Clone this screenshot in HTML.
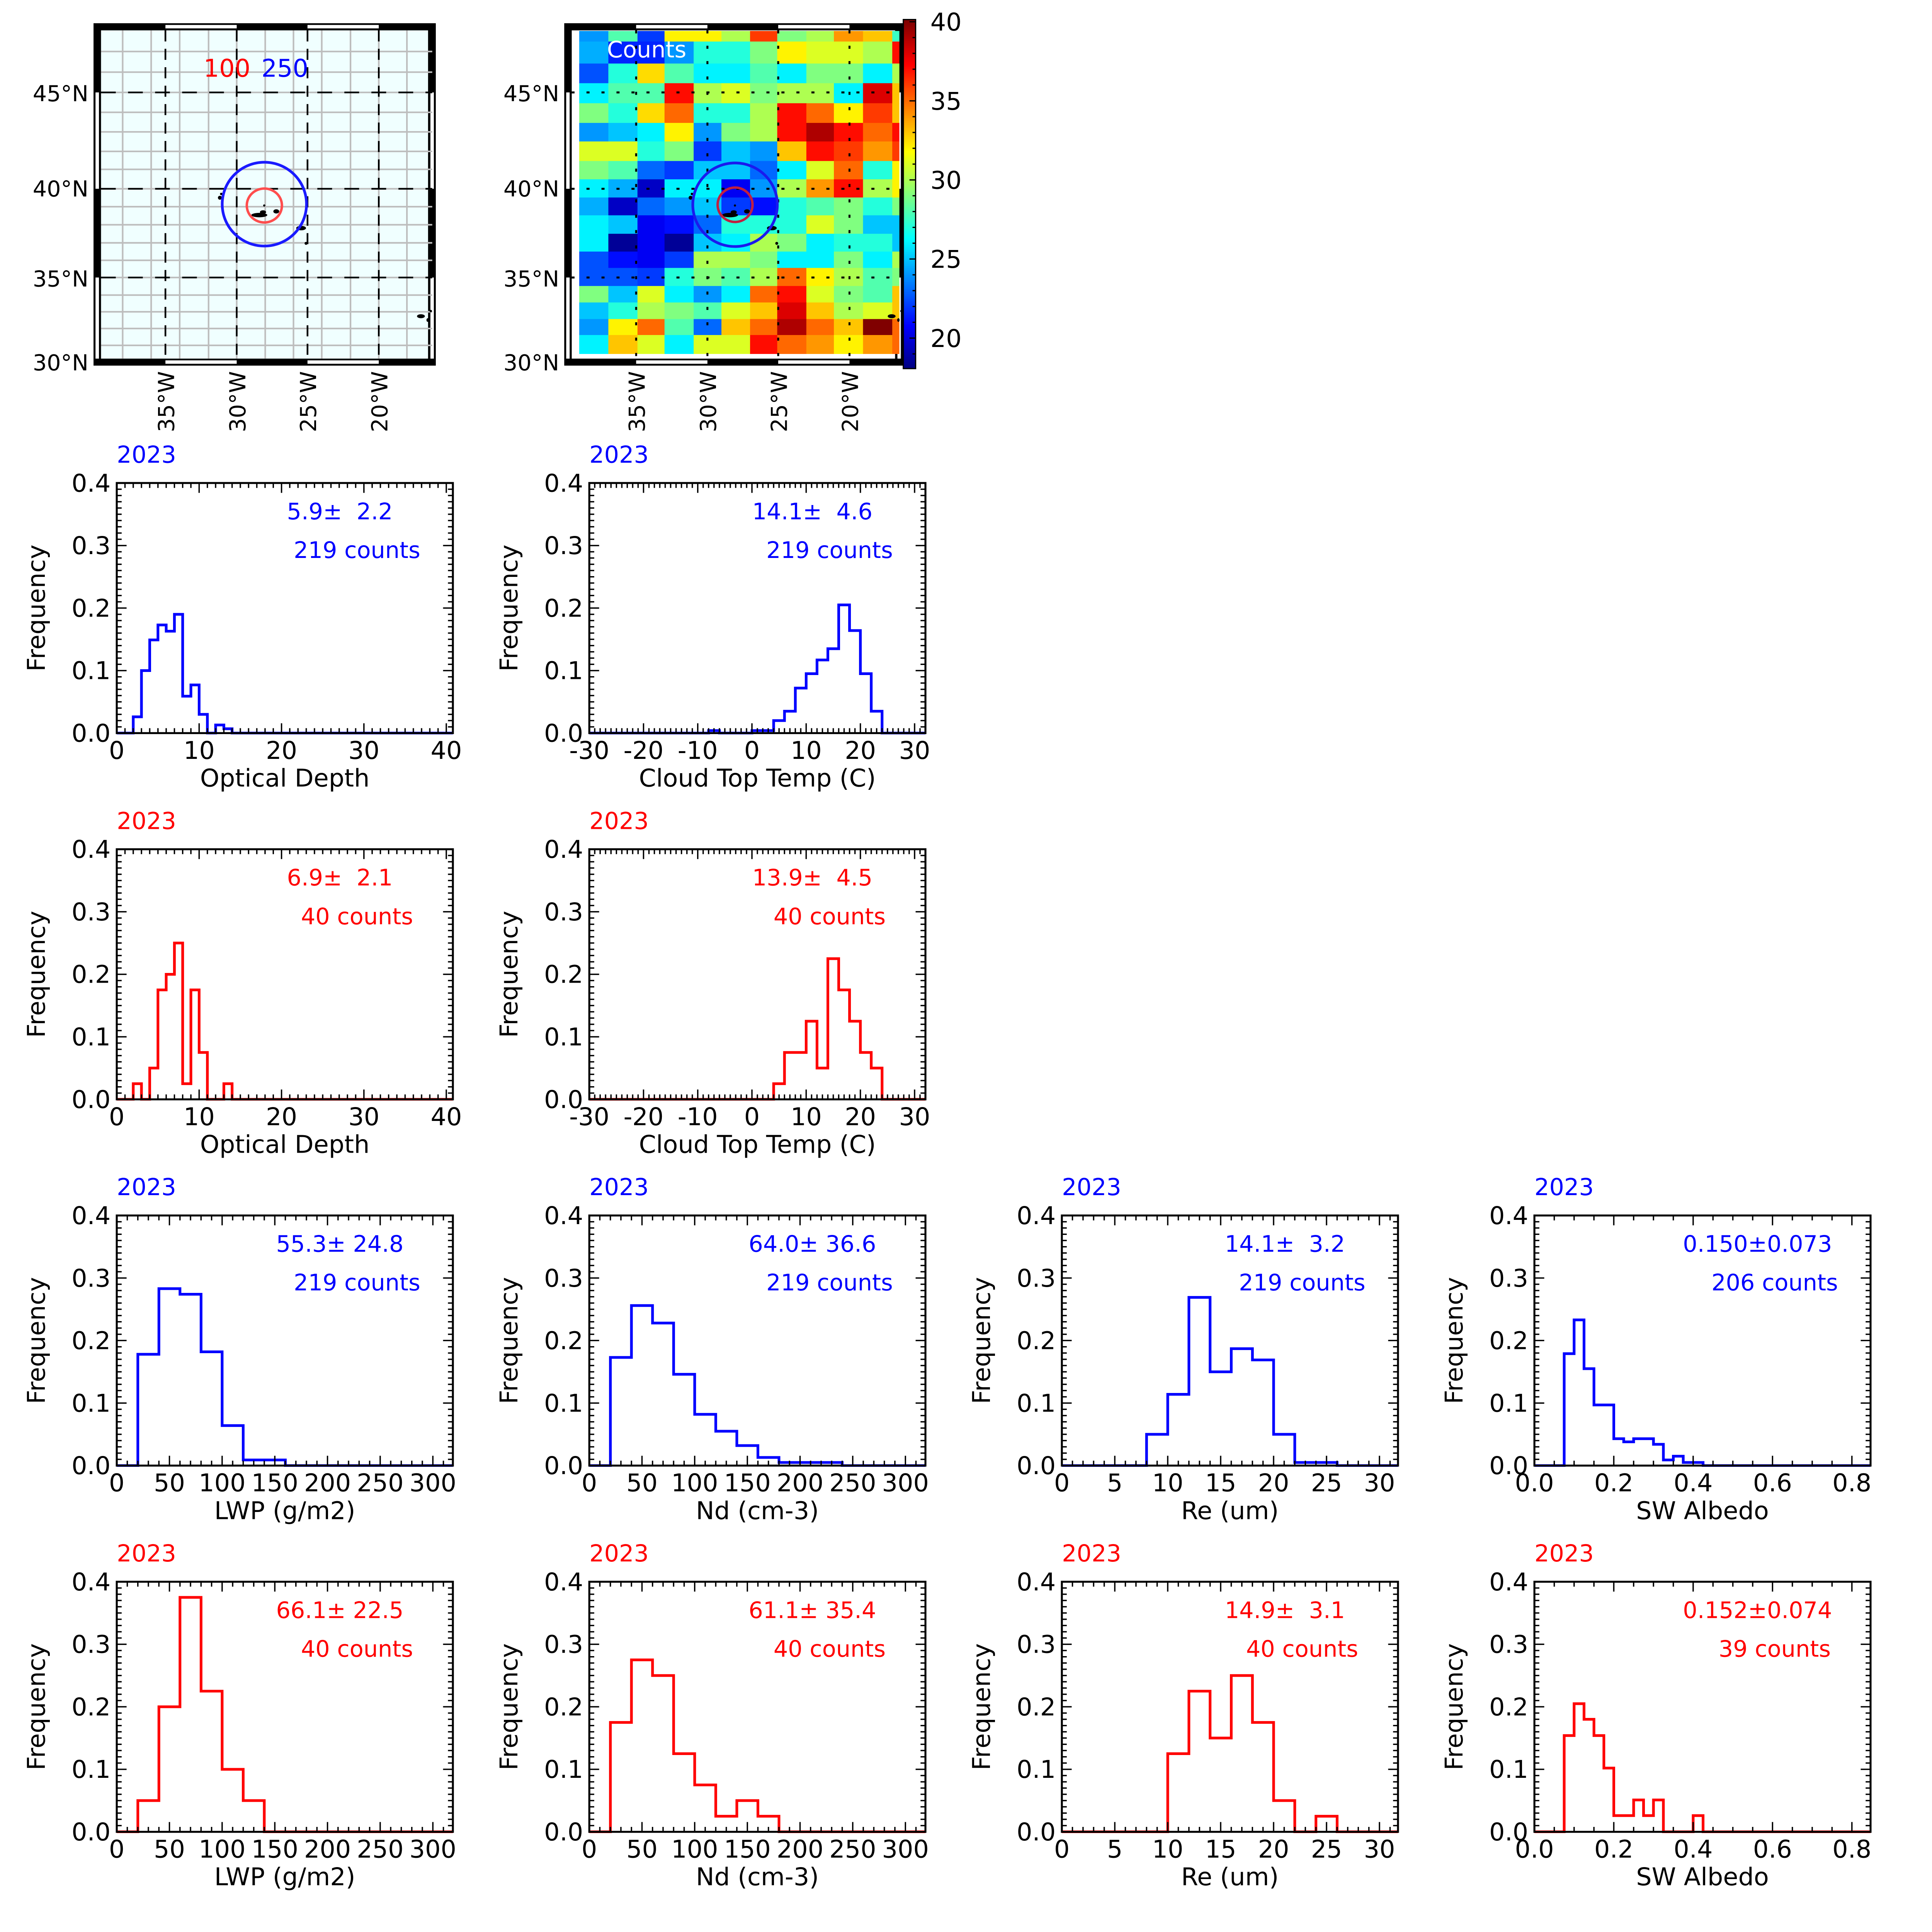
<!DOCTYPE html>
<html><head><meta charset="utf-8"><style>html,body{margin:0;padding:0;background:#fff;overflow:hidden;width:100vw;height:100vh}svg{display:block;width:100vw;height:100vh}text{font-family:"DejaVu Sans","Liberation Sans",sans-serif}</style></head>
<body>
<svg id="s" xmlns="http://www.w3.org/2000/svg" viewBox="0 0 1572 1572" preserveAspectRatio="none"></svg>
<script>
var o=[];
function jet(v){var t=(v-18)/22;if(t<0)t=0;if(t>1)t=1;function c(x){x=Math.max(0,Math.min(1,x));return Math.round(x*255);}
return 'rgb('+c(1.5-Math.abs(4*t-3))+','+c(1.5-Math.abs(4*t-2))+','+c(1.5-Math.abs(4*t-1))+')';}
function T(x,y,s,size,col,anchor,extra){o.push('<text x="'+x+'" y="'+y+'" font-size="'+size+'" fill="'+col+'" text-anchor="'+(anchor||'start')+'" '+(extra||'')+' xml:space="preserve">'+s+'</text>');}
var vx=[134.6,192.6,250.2,308.2], hy=[75.2,153.6,225.8];
var gx=[99.8,123,146.2,169.7,192.6,215.8,238.8,261.8,285.2,308.2,331.1];
var gy=[41.9,58.7,75.2,91.4,107.3,123.2,137.8,153.6,168.2,182.9,197.6,211.8,225.8,240.1,253.7,267.3,281];
function frame(off,w,inner){
 var x0=76.1+off,x1=x0+w,y0=18.9,y1=297.5;
 o.push('<rect x="'+x0+'" y="'+y0+'" width="'+(x1-x0)+'" height="'+(y1-y0)+'" fill="#000"/>');
 o.push('<rect x="'+(x0+6.1)+'" y="24.7" width="'+(w-12.4)+'" height="267.1" fill="'+inner+'"/>');
 var ws=[[vx[0],vx[1]],[vx[2],vx[3]]];
 ws.forEach(function(a){o.push('<rect x="'+(a[0]+off)+'" y="20.3" width="'+(a[1]-a[0])+'" height="2.8" fill="#fff"/>');
  o.push('<rect x="'+(a[0]+off)+'" y="293.2" width="'+(a[1]-a[0])+'" height="2.8" fill="#fff"/>');});
 [[hy[0],hy[1]],[hy[2],291.8]].forEach(function(a){o.push('<rect x="'+(x0+1.6)+'" y="'+a[0]+'" width="2.8" height="'+(a[1]-a[0])+'" fill="#fff"/>');
  o.push('<rect x="'+(x1-4.4)+'" y="'+a[0]+'" width="2.8" height="'+(a[1]-a[0])+'" fill="#fff"/>');});
}
function islands(off){
 var p=[[178.9,160.9,1.6,1.6],[180,157.8,1,1],[211,175,6.5,1.8],[214,172.6,2.5,1.5],[224.8,172,2.4,1.7],[215,167.2,0.9,0.9],[245,185.6,4,1.8],[249,198,1.2,1.2],[342.5,257.3,3.2,1.6],[350.5,253.1,1,1],[348,260.4,1,1.5]];
 p.forEach(function(q){o.push('<ellipse cx="'+(q[0]+off)+'" cy="'+q[1]+'" rx="'+q[2]+'" ry="'+q[3]+'" fill="#000"/>');});
}
frame(0,278.5,'#f0ffff');
gx.forEach(function(x){o.push('<line x1="'+x+'" y1="24.7" x2="'+x+'" y2="291.8" stroke="#bdbdbd" stroke-width="1.3"/>');});
gy.forEach(function(y){o.push('<line x1="82.2" y1="'+y+'" x2="351.7" y2="'+y+'" stroke="#bdbdbd" stroke-width="1.3"/>');});
vx.forEach(function(x){o.push('<line x1="'+x+'" y1="24.7" x2="'+x+'" y2="291.8" stroke="#000" stroke-width="1.4" stroke-dasharray="9 6"/>');});
hy.forEach(function(y){o.push('<line x1="82.2" y1="'+y+'" x2="351.7" y2="'+y+'" stroke="#000" stroke-width="1.4" stroke-dasharray="12 10"/>');});
islands(0);
o.push('<ellipse cx="215.1" cy="166.1" rx="34.3" ry="34.1" fill="none" stroke="#1a1aff" stroke-width="2.2"/>');
o.push('<ellipse cx="215.1" cy="167.2" rx="14.3" ry="13.8" fill="none" stroke="#ff4d4d" stroke-width="2"/>');
T(165.6,62.4,'100',20,'#ff0000');T(212.7,62.4,'250',20,'#0000ff');
var off=383;
frame(off,275.5,'#fff');
var cx=[471.3,495,518.7,540.7,564.4,587,610.3,632.4,656.1,678.5,702.2,726,731.4];
var cy=[25.2,33.8,51.7,67.7,84,100,115.1,131,145.9,160.7,175.2,190.2,204.7,218,232.7,246.1,259.6,272.6,287.6];
var V=[
[24,28,22,32,32,30,36,29,30,34,33,27.5],
[24.5,21.5,21.5,24,27,27,29,32,31,31,30,37],
[22.5,27,32.5,28,26,26,28,26,29,29,26,30],
[26,28,28,37,30,31,29,30,30,26,38,33],
[29,27,32.5,35,27,27,30,37,35,32,36,33],
[24,25,26,32,24,29,30,37,39,37,35,37],
[31,31,27,29,22,25,24,33,37,36,34,36],
[29,28,23,22,25,25,23,26,31,35,27,32],
[26,24.5,19.5,26,26,20.5,24,30,34,37,30,32],
[24.5,19.5,23,24,25,22,21,27,28,29,27,29],
[26,25,20.5,21,23,27,27,27,31,29,25,25],
[26,18.5,20.5,18.5,25,26,30,29,26,27,27,25],
[22.5,21,20.5,22,30,30,29,26,26,29,26,30],
[22.5,22.5,22,27,29,28,30,35,32,30,28,29],
[29,25,31,26,24,26,35,37,31,29,28,33],
[25,27,30,29,28,31,33,38,33,30,31,33],
[24,32,35,28,23,33,35,39,35,33,40,35],
[26,33,31,26,31,31,37,35,34,32,34,35]];
for(var r=0;r<18;r++)for(var c=0;c<12;c++){o.push('<rect x="'+cx[c]+'" y="'+cy[r]+'" width="'+(cx[c+1]-cx[c]+0.4)+'" height="'+(cy[r+1]-cy[r]+0.4)+'" fill="'+jet(V[r][c])+'"/>');}
vx.forEach(function(x){o.push('<line x1="'+(x+off)+'" y1="24.7" x2="'+(x+off)+'" y2="291.8" stroke="#000" stroke-width="1.6" stroke-dasharray="2.5 10"/>');});
hy.forEach(function(y){o.push('<line x1="465" y1="'+y+'" x2="734" y2="'+y+'" stroke="#000" stroke-width="1.6" stroke-dasharray="2.5 9.7"/>');});
islands(off);
o.push('<ellipse cx="598.1" cy="166.6" rx="34.4" ry="34" fill="none" stroke="#1a1aee" stroke-width="2.2"/>');
o.push('<ellipse cx="598.1" cy="166.6" rx="14.2" ry="14" fill="none" stroke="#c02040" stroke-width="2"/>');
T(493.9,46.7,'Counts',18.5,'#fff');
var cbx=735,cbw=10,cbt=15.9,cbb=299.9;
for(var i=0;i<200;i++){var v=18.07+(40.14-18.07)*(i/200);var y=cbb-(cbb-cbt)*(i+1)/200;
o.push('<rect x="'+cbx+'" y="'+y+'" width="'+cbw+'" height="'+((cbb-cbt)/200+0.4)+'" fill="'+jet(v)+'"/>');}
o.push('<rect x="'+cbx+'" y="'+cbt+'" width="'+cbw+'" height="'+(cbb-cbt)+'" fill="none" stroke="#000" stroke-width="1"/>');
for(var v=19;v<=40;v++){var y=17.7+(40-v)*12.87;var L=(v%5==0)?5:2.5;
o.push('<line x1="'+(cbx+cbw)+'" y1="'+y+'" x2="'+(cbx+cbw-L)+'" y2="'+y+'" stroke="#000" stroke-width="1"/>');}
[40,35,30,25,20].forEach(function(v){T(757,17.7+(40-v)*12.87+7.2,''+v,20,'#000');});
[['45°N',82.3],['40°N',159.9],['35°N',233.2],['30°N',301.3]].forEach(function(a){T(72,a[1],a[0],18,'#000','end');T(72+off,a[1],a[0],18,'#000','end');});
[['35°W',vx[0]],['30°W',vx[1]],['25°W',vx[2]],['20°W',vx[3]]].forEach(function(a){
 [0,off].forEach(function(d){var x=a[1]+d+7;o.push('<text x="0" y="0" font-size="18" fill="#000" text-anchor="end" transform="translate('+x+',302) rotate(-90)">'+a[0]+'</text>');});});
var PW=273.5,PH=203.5,cid=0;
function hist(L,Tp,xmin,xmax,major,minor,labs,xlabel,bins,col,s1,s2){
 function X(v){return L+(v-xmin)/(xmax-xmin)*PW;} function Y(v){return Tp+PH-v/0.4*PH;}
 var segs=[],last=xmin;
 bins.forEach(function(b){if(b[0]>last)segs.push([last,b[0],0]);segs.push(b);last=b[1];});
 if(last<xmax)segs.push([last,xmax,0]);
 var d='M'+X(segs[0][0]).toFixed(2)+' '+Y(segs[0][2]).toFixed(2);
 segs.forEach(function(s){d+=' L'+X(s[0]).toFixed(2)+' '+Y(s[2]).toFixed(2)+' L'+X(s[1]).toFixed(2)+' '+Y(s[2]).toFixed(2);});
 cid++;o.push('<clipPath id="c'+cid+'"><rect x="'+L+'" y="'+(Tp-2)+'" width="'+PW+'" height="'+(PH+3)+'"/></clipPath>');
 o.push('<path d="'+d+'" fill="none" stroke="'+col+'" stroke-width="2.2" clip-path="url(#c'+cid+')"/>');
 var t='';
 for(var k=0;k<=40;k++){var y=Y(k/100),l=(k%10==0)?8:4;t+='M'+L+' '+y+' h'+l+' M'+(L+PW)+' '+y+' h'+(-l)+' ';}
 for(var k=Math.ceil(xmin/minor-1e-6);k*minor<=xmax+1e-9;k++){var v=k*minor,x=X(v);var isM=Math.abs(v/major-Math.round(v/major))<1e-6;var l=isM?8:4;
  t+='M'+x+' '+(Tp+PH)+' v'+(-l)+' M'+x+' '+Tp+' v'+l+' ';}
 o.push('<path d="'+t+'" stroke="#000" stroke-width="1.1" fill="none"/>');
 o.push('<rect x="'+L+'" y="'+Tp+'" width="'+PW+'" height="'+PH+'" fill="none" stroke="#000" stroke-width="1.6"/>');
 ['0.0','0.1','0.2','0.3','0.4'].forEach(function(s,i){T(L-5,Y(i/10)+7,s,20,'#000','end');});
 labs.forEach(function(a){T(X(a[0]),Tp+PH+21,a[1],20,'#000','middle');});
 T(L+PW/2,Tp+PH+43.5,xlabel,20,'#000','middle');
 T(L,Tp-16.5,'2023',19,col);
 o.push('<text x="0" y="0" font-size="20" fill="#000" text-anchor="middle" transform="translate('+(L-58.5)+','+(Tp+PH/2)+') rotate(-90)">Frequency</text>');
 T(L+181.5,Tp+29.5,s1,18.5,col,'middle');
 T(L+195.5,Tp+61,s2,18.5,col,'middle');
}
function mk(a){return a.map(function(v){return [v,''+v];});}
var odL=mk([0,10,20,30,40]),ctL=mk([-30,-20,-10,0,10,20,30]),lwL=mk([0,50,100,150,200,250,300]),reL=mk([0,5,10,15,20,25,30]),alL=[[0,'0.0'],[0.2,'0.2'],[0.4,'0.4'],[0.6,'0.6'],[0.8,'0.8']];
var C=[95,479.5,864,1248.5],R=[393,691,989,1287],B='#0000ff',Rd='#ff0000';
hist(C[0],R[0],0,40.8,10,1,odL,'Optical Depth',[[2,3,.026],[3,4,.1],[4,5,.149],[5,6,.173],[6,7,.163],[7,8,.19],[8,9,.059],[9,10,.077],[10,11,.03],[11,12,0],[12,13,.013],[13,14,.007]],B,'5.9±  2.2','219 counts');
hist(C[1],R[0],-30,32,10,1,ctL,'Cloud Top Temp (C)',[[-8,-6,.004],[-6,0,0],[0,4,.004],[4,6,.02],[6,8,.035],[8,10,.072],[10,12,.095],[12,14,.117],[14,16,.135],[16,18,.205],[18,20,.164],[20,22,.095],[22,24,.035]],B,'14.1±  4.6','219 counts');
hist(C[0],R[1],0,40.8,10,1,odL,'Optical Depth',[[2,3,.025],[3,4,0],[4,5,.05],[5,6,.175],[6,7,.2],[7,8,.25],[8,9,.025],[9,10,.175],[10,11,.075],[11,13,0],[13,14,.025]],Rd,'6.9±  2.1','40 counts');
hist(C[1],R[1],-30,32,10,1,ctL,'Cloud Top Temp (C)',[[4,6,.025],[6,10,.075],[10,12,.125],[12,14,.05],[14,16,.225],[16,18,.175],[18,20,.125],[20,22,.075],[22,24,.05]],Rd,'13.9±  4.5','40 counts');
hist(C[0],R[2],0,319,50,10,lwL,'LWP (g/m2)',[[20,40,.178],[40,60,.283],[60,80,.274],[80,100,.182],[100,120,.064],[120,160,.009]],B,'55.3± 24.8','219 counts');
hist(C[1],R[2],0,319,50,10,lwL,'Nd (cm-3)',[[20,40,.173],[40,60,.256],[60,80,.228],[80,100,.146],[100,120,.082],[120,140,.055],[140,160,.032],[160,180,.013],[180,240,.005]],B,'64.0± 36.6','219 counts');
hist(C[2],R[2],0,31.75,5,1,reL,'Re (um)',[[8,10,.05],[10,12,.114],[12,14,.269],[14,16,.15],[16,18,.187],[18,20,.169],[20,22,.05],[22,26,.005]],B,'14.1±  3.2','219 counts');
hist(C[3],R[2],0,0.847,0.2,0.05,alL,'SW Albedo',[[.075,.1,.179],[.1,.125,.233],[.125,.15,.155],[.15,.2,.097],[.2,.225,.043],[.225,.25,.038],[.25,.3,.043],[.3,.325,.034],[.325,.35,.009],[.35,.375,.015],[.375,.425,.005]],B,'0.150±0.073','206 counts');
hist(C[0],R[3],0,319,50,10,lwL,'LWP (g/m2)',[[20,40,.05],[40,60,.2],[60,80,.375],[80,100,.225],[100,120,.1],[120,140,.05]],Rd,'66.1± 22.5','40 counts');
hist(C[1],R[3],0,319,50,10,lwL,'Nd (cm-3)',[[20,40,.175],[40,60,.275],[60,80,.25],[80,100,.125],[100,120,.075],[120,140,.025],[140,160,.05],[160,180,.025]],Rd,'61.1± 35.4','40 counts');
hist(C[2],R[3],0,31.75,5,1,reL,'Re (um)',[[10,12,.125],[12,14,.225],[14,16,.15],[16,18,.25],[18,20,.175],[20,22,.05],[22,24,0],[24,26,.025]],Rd,'14.9±  3.1','40 counts');
hist(C[3],R[3],0,0.847,0.2,0.05,alL,'SW Albedo',[[.075,.1,.154],[.1,.125,.205],[.125,.15,.18],[.15,.175,.154],[.175,.2,.102],[.2,.25,.026],[.25,.275,.051],[.275,.3,.026],[.3,.325,.051],[.325,.4,0],[.4,.425,.026]],Rd,'0.152±0.074','39 counts');
document.getElementById('s').innerHTML=o.join('');
</script>
</body></html>
